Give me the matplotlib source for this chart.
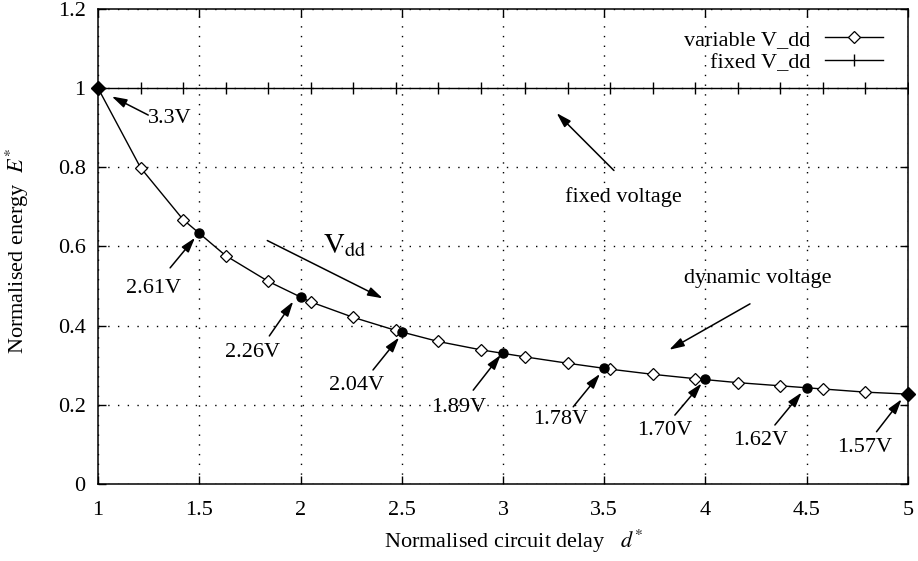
import matplotlib
matplotlib.use("Agg")
import matplotlib.pyplot as plt

# normalised circuit delay of each simulated point
delay = [1.00, 1.21, 1.42, 1.63, 1.84, 2.05, 2.26, 2.47, 2.68, 2.89,
         3.11, 3.32, 3.53, 3.74, 3.95, 4.16, 4.37, 4.58, 4.79, 5.00]
# normalised energy, variable supply
energy_var = [1.000, 0.799, 0.668, 0.577, 0.512, 0.460, 0.421, 0.388, 0.360, 0.339,
              0.321, 0.305, 0.290, 0.277, 0.266, 0.256, 0.248, 0.240, 0.232, 0.227]
# normalised energy, fixed supply
energy_fixed = [1.0, 1.0, 1.0, 1.0, 1.0, 1.0, 1.0, 1.0, 1.0, 1.0,
                1.0, 1.0, 1.0, 1.0, 1.0, 1.0, 1.0, 1.0, 1.0, 1.0]

# points labelled with their supply voltage
vdd_delay = [1.0, 1.5, 2.0, 2.5, 3.0, 3.5, 4.0, 4.5, 5.0]
vdd_energy = [1.000, 0.635, 0.472, 0.383, 0.330, 0.292, 0.265, 0.243, 0.227]
vdd_labels = ["3.3V", "2.61V", "2.26V", "2.04V", "1.89V", "1.78V", "1.70V", "1.62V", "1.57V"]

xticks = [1, 1.5, 2, 2.5, 3, 3.5, 4, 4.5, 5]
xtick_labels = ["1", "1.5", "2", "2.5", "3", "3.5", "4", "4.5", "5"]
yticks = [0, 0.2, 0.4, 0.6, 0.8, 1.0, 1.2]
ytick_labels = ["0", "0.2", "0.4", "0.6", "0.8", "1", "1.2"]

# where the voltage labels and their arrows go
label_pos = [(1.356, 0.924), (1.274, 0.494), (1.763, 0.332), (2.277, 0.250), (2.783, 0.192),
             (3.284, 0.162), (3.800, 0.134), (4.271, 0.109), (4.788, 0.092)]
arrow_tail = [(1.248, 0.932), (1.356, 0.546), (1.846, 0.374), (2.358, 0.288), (2.853, 0.237),
              (3.347, 0.195), (3.849, 0.174), (4.343, 0.149), (4.845, 0.132)]
arrow_head = [(1.068, 0.979), (1.479, 0.622), (1.964, 0.461), (2.487, 0.370), (2.989, 0.326),
              (3.479, 0.278), (3.981, 0.254), (4.475, 0.231), (4.969, 0.214)]

plt.rcParams['font.family'] = ['Liberation Serif', 'DejaVu Serif']
plt.rcParams['mathtext.fontset'] = 'stix'
fs = 16

fig = plt.figure(figsize=(9.18, 5.61), dpi=100)
ax = fig.add_axes([0.1068, 0.1373, 0.8822, 0.8467])

ax.grid(True, color='black', linestyle=(0, (1, 6)), linewidth=1.0)
ax.set_axisbelow(True)

ax.plot(delay, energy_var, color='black', lw=1.0, marker='D', ms=6.5,
        mfc='white', mec='black', mew=0.9, label='variable V_dd', zorder=3)
ax.plot(delay, energy_fixed, color='black', lw=1.0, marker='|', ms=9,
        mew=1.0, label='fixed V_dd', zorder=3)
ax.plot(vdd_delay[1:-1], vdd_energy[1:-1], 'o', color='black', ms=6.5, zorder=4)
# end points sit on the frame and show as solid diamonds
ax.plot([vdd_delay[0], vdd_delay[-1]], [vdd_energy[0], vdd_energy[-1]], 'D',
        color='black', ms=7, zorder=5, clip_on=False)

arrow = dict(arrowstyle='-|>,head_length=0.9,head_width=0.27', color='black',
             lw=1.1, shrinkA=0, shrinkB=0)
for i in range(len(vdd_labels)):
    ax.annotate("", xy=arrow_head[i], xytext=arrow_tail[i], arrowprops=arrow)
    ax.text(label_pos[i][0], label_pos[i][1], vdd_labels[i], fontsize=fs,
            ha='center', va='center')

ax.annotate("", xy=(2.406, 0.469), xytext=(1.836, 0.615), arrowprops=arrow)
ax.text(2.11, 0.583, r'$\mathrm{V}_{\mathrm{dd}}$', fontsize=21, ha='left', va='baseline')

ax.annotate("", xy=(3.265, 0.937), xytext=(3.548, 0.792), arrowprops=arrow)
ax.text(3.593, 0.725, "fixed voltage", fontsize=fs, ha='center', va='center')

ax.annotate("", xy=(3.821, 0.339), xytext=(4.220, 0.455), arrowprops=arrow)
ax.text(4.257, 0.518, "dynamic voltage", fontsize=fs, ha='center', va='center')

ax.set_xlim(1, 5)
ax.set_ylim(0, 1.2)
ax.set_xticks(xticks)
ax.set_xticklabels(xtick_labels)
ax.set_yticks(yticks)
ax.set_yticklabels(ytick_labels)
ax.tick_params(direction='in', length=6, width=1.0, top=True, right=True,
               labelsize=fs, pad=9)
ax.tick_params(axis='x', pad=12)
for s in ax.spines.values():
    s.set_linewidth(1.1)

ax.set_xlabel('Normalised circuit delay   $d^{*}$', fontsize=fs)
ax.xaxis.set_label_coords(0.5136, -0.092)
ax.set_ylabel('Normalised energy  $E^{*}$', fontsize=fs)
ax.yaxis.set_label_coords(-0.083, 0.49)

ax.legend(loc='upper right', bbox_to_anchor=(0.969, 0.957), frameon=False,
          markerfirst=False, fontsize=fs, handlelength=2.6, handletextpad=0.65,
          borderpad=0, borderaxespad=0, labelspacing=0.1)

fig.savefig('out.png', dpi=100)
